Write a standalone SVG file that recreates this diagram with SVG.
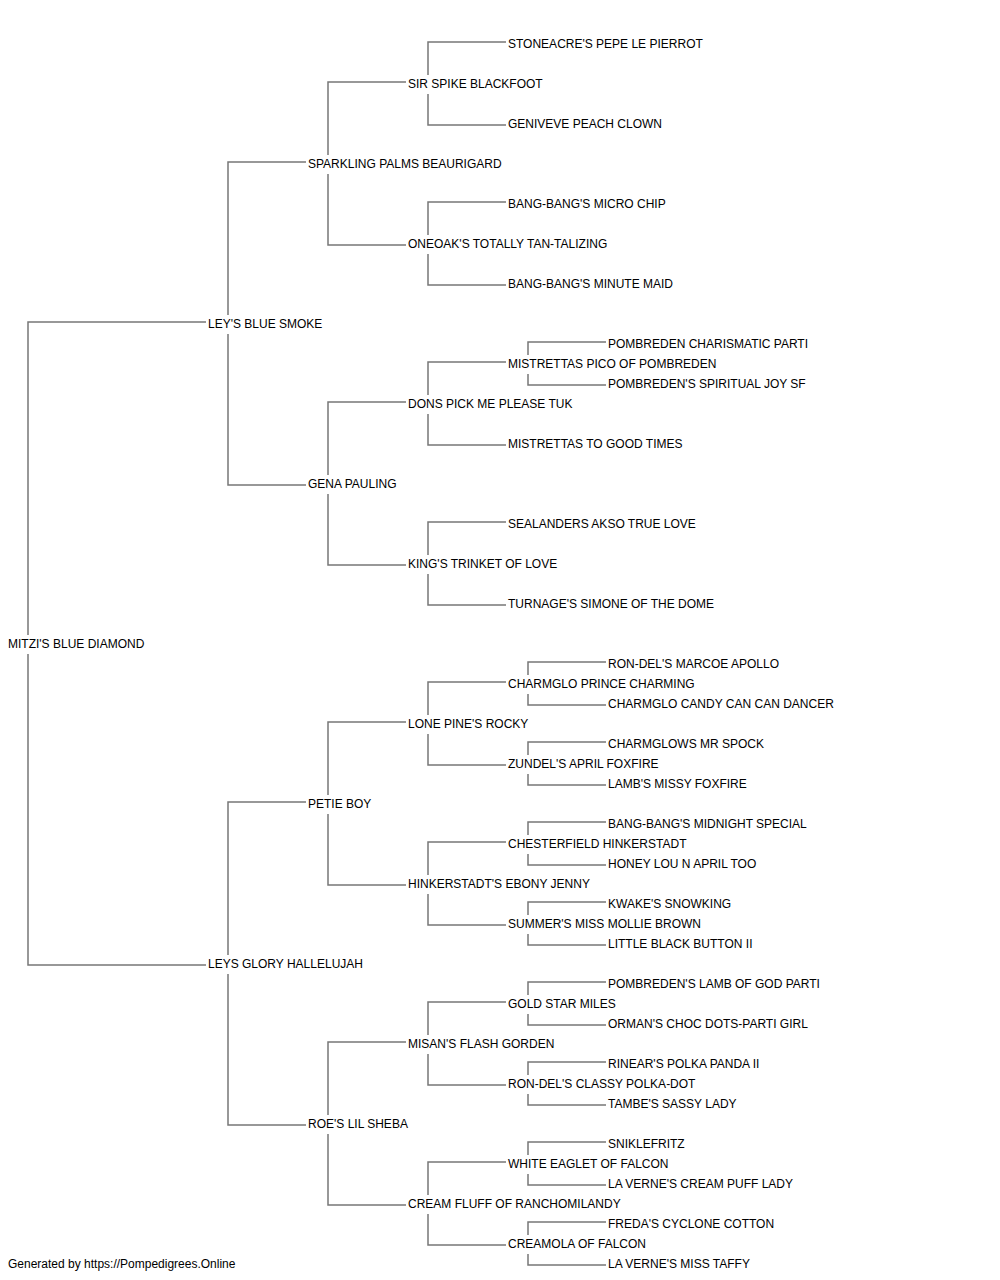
<svg xmlns="http://www.w3.org/2000/svg" width="1000" height="1280" viewBox="0 0 1000 1280">
<style>
text{font-family:"Liberation Sans",Arial,sans-serif;font-size:12px;fill:#000}
.c path{fill:none;stroke:#777;stroke-width:1.5}
</style>
<rect width="1000" height="1280" fill="#fff"/>
<g class="c" id="connectors">
<path d="M206,322 H28 V635 M28,654 V965 H206"/>
<path d="M306,162 H228 V315 M228,334 V485 H306"/>
<path d="M306,802 H228 V955 M228,974 V1125 H306"/>
<path d="M406,82 H328 V155 M328,174 V245 H406"/>
<path d="M406,402 H328 V475 M328,494 V565 H406"/>
<path d="M406,722 H328 V795 M328,814 V885 H406"/>
<path d="M406,1042 H328 V1115 M328,1134 V1205 H406"/>
<path d="M506,42 H428 V75 M428,94 V125 H506"/>
<path d="M506,202 H428 V235 M428,254 V285 H506"/>
<path d="M506,362 H428 V395 M428,414 V445 H506"/>
<path d="M506,522 H428 V555 M428,574 V605 H506"/>
<path d="M506,682 H428 V715 M428,734 V765 H506"/>
<path d="M506,842 H428 V875 M428,894 V925 H506"/>
<path d="M506,1002 H428 V1035 M428,1054 V1085 H506"/>
<path d="M506,1162 H428 V1195 M428,1214 V1245 H506"/>
<path d="M606,342 H528 V355 M528,374 V385 H606"/>
<path d="M606,662 H528 V675 M528,694 V705 H606"/>
<path d="M606,742 H528 V755 M528,774 V785 H606"/>
<path d="M606,822 H528 V835 M528,854 V865 H606"/>
<path d="M606,902 H528 V915 M528,934 V945 H606"/>
<path d="M606,982 H528 V995 M528,1014 V1025 H606"/>
<path d="M606,1062 H528 V1075 M528,1094 V1105 H606"/>
<path d="M606,1142 H528 V1155 M528,1174 V1185 H606"/>
<path d="M606,1222 H528 V1235 M528,1254 V1265 H606"/>
</g>
<g id="n-root"><text x="8" y="648">MITZI'S BLUE DIAMOND</text></g>
<g id="n-s"><text x="208" y="328">LEY'S BLUE SMOKE</text></g>
<g id="n-d"><text x="208" y="968">LEYS GLORY HALLELUJAH</text></g>
<g id="n-ss"><text x="308" y="168">SPARKLING PALMS BEAURIGARD</text></g>
<g id="n-sd"><text x="308" y="488">GENA PAULING</text></g>
<g id="n-ds"><text x="308" y="808">PETIE BOY</text></g>
<g id="n-dd"><text x="308" y="1128">ROE'S LIL SHEBA</text></g>
<g id="n-sss"><text x="408" y="88">SIR SPIKE BLACKFOOT</text></g>
<g id="n-ssd"><text x="408" y="248">ONEOAK'S TOTALLY TAN-TALIZING</text></g>
<g id="n-sds"><text x="408" y="408">DONS PICK ME PLEASE TUK</text></g>
<g id="n-sdd"><text x="408" y="568">KING'S TRINKET OF LOVE</text></g>
<g id="n-dss"><text x="408" y="728">LONE PINE'S ROCKY</text></g>
<g id="n-dsd"><text x="408" y="888">HINKERSTADT'S EBONY JENNY</text></g>
<g id="n-dds"><text x="408" y="1048">MISAN'S FLASH GORDEN</text></g>
<g id="n-ddd"><text x="408" y="1208">CREAM FLUFF OF RANCHOMILANDY</text></g>
<g id="n-ssss"><text x="508" y="48">STONEACRE'S PEPE LE PIERROT</text></g>
<g id="n-sssd"><text x="508" y="128">GENIVEVE PEACH CLOWN</text></g>
<g id="n-ssds"><text x="508" y="208">BANG-BANG'S MICRO CHIP</text></g>
<g id="n-ssdd"><text x="508" y="288">BANG-BANG'S MINUTE MAID</text></g>
<g id="n-sdss"><text x="508" y="368">MISTRETTAS PICO OF POMBREDEN</text></g>
<g id="n-sdsd"><text x="508" y="448">MISTRETTAS TO GOOD TIMES</text></g>
<g id="n-sdds"><text x="508" y="528">SEALANDERS AKSO TRUE LOVE</text></g>
<g id="n-sddd"><text x="508" y="608">TURNAGE'S SIMONE OF THE DOME</text></g>
<g id="n-dsss"><text x="508" y="688">CHARMGLO PRINCE CHARMING</text></g>
<g id="n-dssd"><text x="508" y="768">ZUNDEL'S APRIL FOXFIRE</text></g>
<g id="n-dsds"><text x="508" y="848">CHESTERFIELD HINKERSTADT</text></g>
<g id="n-dsdd"><text x="508" y="928">SUMMER'S MISS MOLLIE BROWN</text></g>
<g id="n-ddss"><text x="508" y="1008">GOLD STAR MILES</text></g>
<g id="n-ddsd"><text x="508" y="1088">RON-DEL'S CLASSY POLKA-DOT</text></g>
<g id="n-ddds"><text x="508" y="1168">WHITE EAGLET OF FALCON</text></g>
<g id="n-dddd"><text x="508" y="1248">CREAMOLA OF FALCON</text></g>
<g id="n-sdsss"><text x="608" y="348">POMBREDEN CHARISMATIC PARTI</text></g>
<g id="n-sdssd"><text x="608" y="388">POMBREDEN'S SPIRITUAL JOY SF</text></g>
<g id="n-dssss"><text x="608" y="668">RON-DEL'S MARCOE APOLLO</text></g>
<g id="n-dsssd"><text x="608" y="708">CHARMGLO CANDY CAN CAN DANCER</text></g>
<g id="n-dssds"><text x="608" y="748">CHARMGLOWS MR SPOCK</text></g>
<g id="n-dssdd"><text x="608" y="788">LAMB'S MISSY FOXFIRE</text></g>
<g id="n-dsdss"><text x="608" y="828">BANG-BANG'S MIDNIGHT SPECIAL</text></g>
<g id="n-dsdsd"><text x="608" y="868">HONEY LOU N APRIL TOO</text></g>
<g id="n-dsdds"><text x="608" y="908">KWAKE'S SNOWKING</text></g>
<g id="n-dsddd"><text x="608" y="948">LITTLE BLACK BUTTON II</text></g>
<g id="n-ddsss"><text x="608" y="988">POMBREDEN'S LAMB OF GOD PARTI</text></g>
<g id="n-ddssd"><text x="608" y="1028">ORMAN'S CHOC DOTS-PARTI GIRL</text></g>
<g id="n-ddsds"><text x="608" y="1068">RINEAR'S POLKA PANDA II</text></g>
<g id="n-ddsdd"><text x="608" y="1108">TAMBE'S SASSY LADY</text></g>
<g id="n-dddss"><text x="608" y="1148">SNIKLEFRITZ</text></g>
<g id="n-dddsd"><text x="608" y="1188">LA VERNE'S CREAM PUFF LADY</text></g>
<g id="n-dddds"><text x="608" y="1228">FREDA'S CYCLONE COTTON</text></g>
<g id="n-ddddd"><text x="608" y="1268">LA VERNE'S MISS TAFFY</text></g>
<g id="footer"><text x="8" y="1268">Generated by https://Pompedigrees.Online</text></g>
</svg>
